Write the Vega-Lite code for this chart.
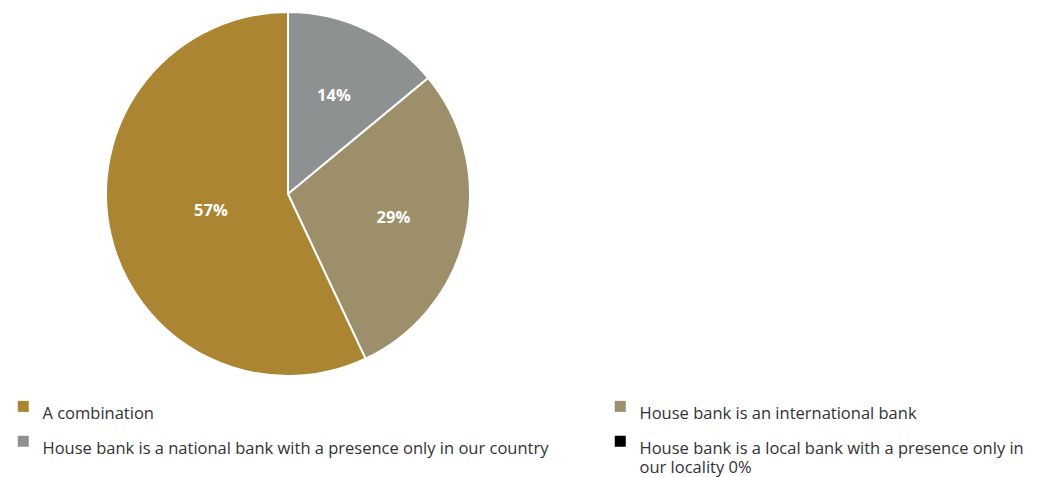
{
  "$schema": "https://vega.github.io/schema/vega-lite/v6.json",
  "width": 576,
  "height": 388,
  "padding": 0,
  "background": "white",
  "config": {"view": {"stroke": null}, "font": "Open Sans"},
  "data": {"values": [
    {"category": "House bank is a national bank with a presence only in our country", "value": 14, "order": 1, "label": "14%"},
    {"category": "House bank is an international bank", "value": 29, "order": 2, "label": "29%"},
    {"category": "A combination", "value": 57, "order": 3, "label": "57%"},
    {"category": "House bank is a local bank with a presence only in our locality 0%", "value": 0, "order": 4, "label": ""}
  ]},
  "encoding": {
    "theta": {"field": "value", "type": "quantitative", "stack": true},
    "order": {"field": "order", "type": "quantitative"}
  },
  "layer": [
    {
      "mark": {"type": "arc", "outerRadius": 182, "stroke": "white", "strokeWidth": 2},
      "encoding": {
        "color": {
          "field": "category", "type": "nominal",
          "scale": {
            "domain": ["A combination", "House bank is a national bank with a presence only in our country", "House bank is an international bank", "House bank is a local bank with a presence only in our locality 0%"],
            "range": ["#ac8532", "#8e9192", "#9e8f6b", "#000000"]
          },
          "legend": {
            "title": null,
            "orient": "none",
            "legendX": 15,
            "legendY": 398,
            "padding": 0,
            "columns": 2,
            "columnPadding": 63,
            "rowPadding": 10,
            "symbolType": "square",
            "symbolSize": 121,
            "symbolStrokeWidth": 0,
            "labelFont": "Open Sans",
            "labelFontSize": 16.5,
            "labelColor": "#333333",
            "labelOffset": 11,
            "labelLimit": 0,
            "labelBaseline": "top",
            "labelExpr": "datum.label == 'House bank is a local bank with a presence only in our locality 0%' ? ['House bank is a local bank with a presence only in', 'our locality 0%'] : datum.label"
          }
        }
      }
    },
    {
      "mark": {"type": "text", "radius": 108, "fontSize": 16.5, "fontWeight": "bold", "fill": "white", "font": "Open Sans"},
      "encoding": {"text": {"condition": {"test": "datum.value < 50", "field": "label"}, "value": ""}}
    },
    {
      "mark": {"type": "text", "radius": 79, "fontSize": 16.5, "fontWeight": "bold", "fill": "white", "font": "Open Sans"},
      "encoding": {"text": {"condition": {"test": "datum.value >= 50", "field": "label"}, "value": ""}}
    }
  ]
}
